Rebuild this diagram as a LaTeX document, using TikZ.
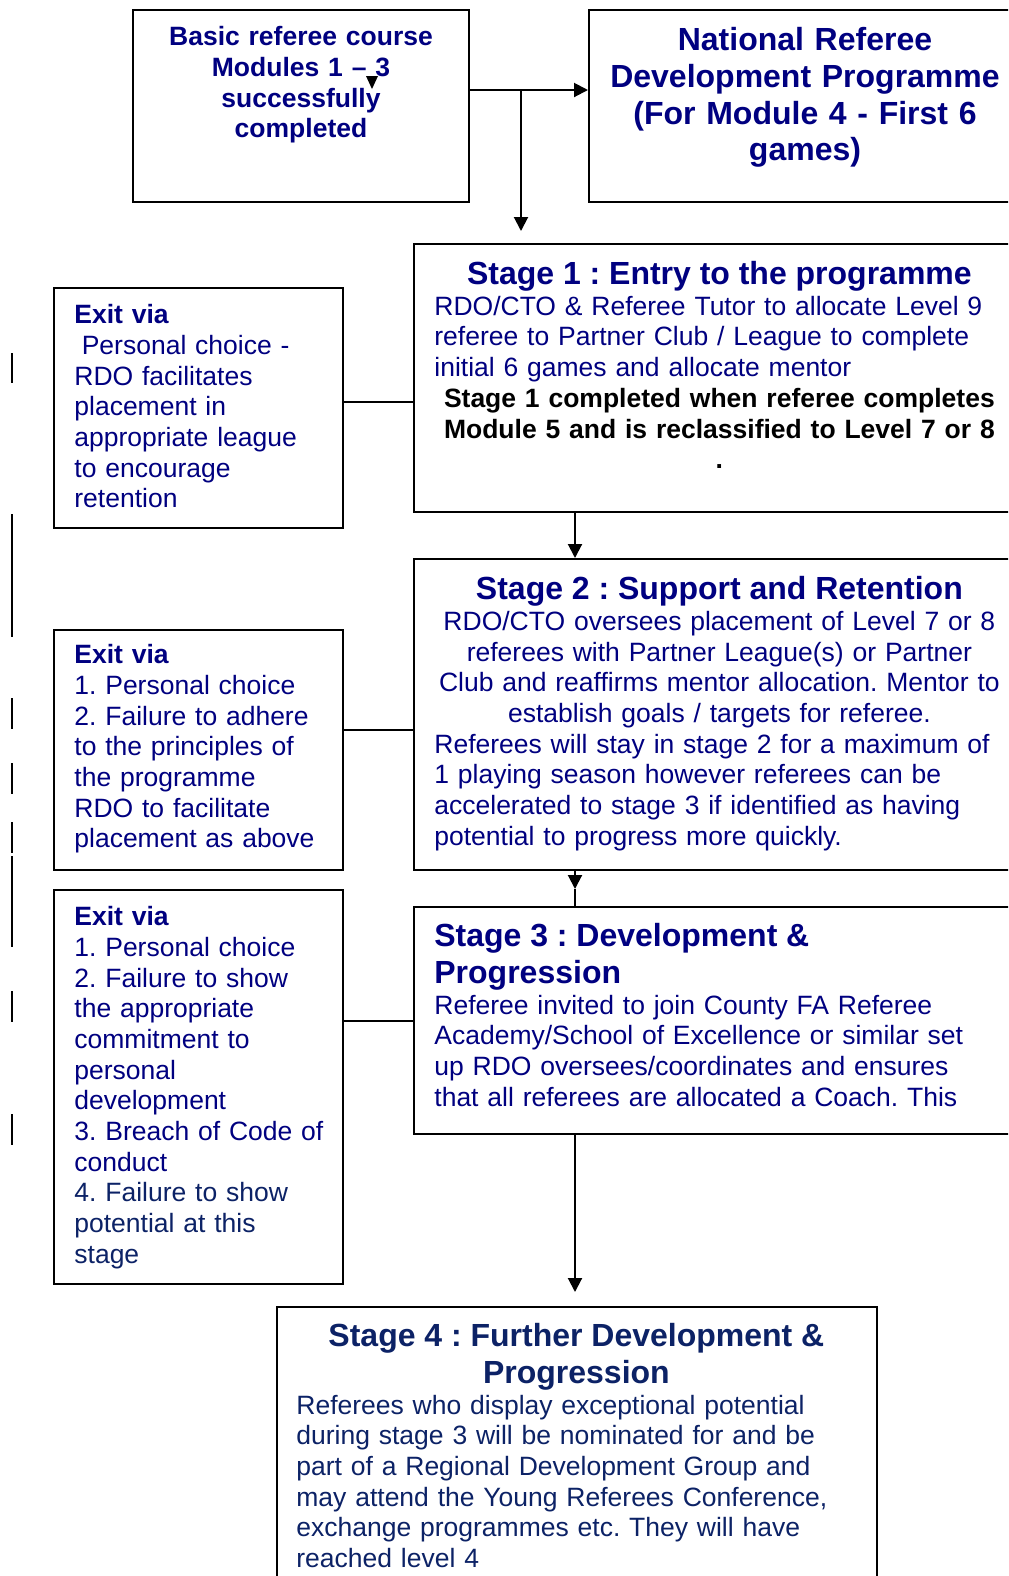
\documentclass[tikz,border=0pt]{standalone}
\usepackage{fontspec}
\setmainfont{Liberation Sans}
\usetikzlibrary{arrows.meta, positioning}

\definecolor{refnavy}{RGB}{0,0,128}
\definecolor{refdeep}{RGB}{12,34,102}
\newcommand{\bodysize}{\frenchspacing\fontsize{13.25}{15.35}\selectfont}
\newcommand{\headsize}{\frenchspacing\fontsize{16}{18.4}\selectfont\bfseries}

\begin{document}
\begin{tikzpicture}[x=0.5pt, y=-0.5pt, >={Triangle[length=7pt, width=7pt]},
  box/.style  = {draw, line width=1pt, inner sep=0pt},
  txt/.style  = {inner sep=0pt, text=refnavy, font=\bodysize, align=left},
  link/.style = {line width=1pt},
  chgbar/.style = {line width=1pt}]
  \path[use as bounding box, fill=white] (0,0) rectangle (1008,1576);
  \clip (0,0) rectangle (1008,1576);

  % Boxes
  \node[box, minimum width=168pt, minimum height=96pt]    (basic) at (301,106)    {};
  \node[box, minimum width=216pt, minimum height=96pt]    (natl)  at (805,106)    {};
  \node[box, minimum width=301pt, minimum height=134pt]   (s1)    at (715,378)    {};
  \node[box, minimum width=301pt, minimum height=155.5pt] (s2)    at (715,714.5)  {};
  \node[box, minimum width=301pt, minimum height=113.5pt] (s3)    at (715,1020.5) {};
  \node[box, minimum width=300pt, minimum height=146.5pt] (s4)    at (577,1453.5) {};
  \node[box, minimum width=144.5pt, minimum height=120pt] (e1)    at (198.5,408)  {};
  \node[box, minimum width=144.5pt, minimum height=120pt] (e2)    at (198.5,750)  {};
  \node[box, minimum width=144.5pt, minimum height=197pt] (e3)    at (198.5,1087) {};

  % Texts
  \node[txt, align=center, font=\bodysize\bfseries, text width=160pt, below=8.5pt of basic.north] (basictext)
    {Basic referee course\\ Modules 1 -- 3\\ successfully\\ completed};
  \node[txt, align=center, font=\headsize, text width=210pt, below=9pt of natl.north] (natltext)
    {National Referee\\ Development Programme\\ (For Module 4 - First 6\\ games)};
  \node[txt, text width=285pt, below right=9pt and 10.5pt of s1.north west] (s1text)
    {{\centering\headsize Stage 1 : Entry to the programme\par}
     RDO/CTO \& Referee Tutor to allocate Level 9\\ referee to Partner Club / League to complete\\ initial 6 games and allocate mentor\par
     {\centering\bfseries\color{black} Stage 1 completed when referee completes\\ Module 5 and is reclassified to Level 7 or 8\\ .\par}};
  \node[txt, text width=285pt, below right=9pt and 10.5pt of s2.north west] (s2text)
    {{\centering\headsize Stage 2 : Support and Retention\par}
     {\centering RDO/CTO oversees placement of Level 7 or 8\\ referees with Partner League(s) or Partner\\ Club and reaffirms mentor allocation. Mentor to\\ establish goals / targets for referee.\par}
     Referees will stay in stage 2 for a maximum of\\ 1 playing season however referees can be\\ accelerated to stage 3 if identified as having\\ potential to progress more quickly.};
  \node[txt, text width=285pt, below right=8.5pt and 10.5pt of s3.north west] (s3text)
    {{\headsize Stage 3 : Development \&\\ Progression\par}
     Referee invited to join County FA Referee\\ Academy/School of Excellence or similar set\\ up RDO oversees/coordinates and ensures\\ that all referees are allocated a Coach. This};
  \node[txt, text=refdeep, text width=280pt, below right=8.5pt and 10pt of s4.north west] (s4text)
    {{\centering\headsize Stage 4 : Further Development \&\\ Progression\par}
     Referees who display exceptional potential\\ during stage 3 will be nominated for and be\\ part of a Regional Development Group and\\ may attend the Young Referees Conference,\\ exchange programmes etc. They will have\\ reached level 4};
  \node[txt, text width=135pt, below right=8.5pt and 10.5pt of e1.north west] (e1text)
    {{\bfseries Exit via}\\ \hspace*{0.28em}Personal choice -\\ RDO facilitates\\ placement in\\ appropriate league\\ to encourage\\ retention};
  \node[txt, text width=135pt, below right=7.5pt and 10.5pt of e2.north west] (e2text)
    {{\bfseries Exit via}\\ 1. Personal choice\\ 2. Failure to adhere\\ to the principles of\\ the programme\\ RDO to facilitate\\ placement as above};
  \node[txt, text width=135pt, below right=8.5pt and 10.5pt of e3.north west] (e3text)
    {{\bfseries Exit via}\\ 1. Personal choice\\ 2. Failure to show\\ the appropriate\\ commitment to\\ personal\\ development\\ 3. Breach of Code of\\ conduct\\ {\color{refdeep}4. Failure to show\\ potential at this\\ stage}};

  % Stray arrow head in the first box
  \fill (366,76) -- (378,76) -- (372,89) -- cycle;

  % Connectors
  \coordinate (split) at (521,90);
  \draw[link, ->] ([yshift=8pt]basic.east) -- ([yshift=8pt]natl.west);
  \draw[link, ->, shorten >=6pt] (split) -- (split |- s1.north);
  \draw[link] ([yshift=3pt]e1.east) -- ([yshift=3pt]e1.east -| s1.west);
  \draw[link, ->] ([xshift=-70pt]s1.south) -- ([xshift=-70pt]s2.north);
  \draw[link] ([yshift=10pt]e2.east) -- ([yshift=10pt]e2.east -| s2.west);
  \coordinate (s2tip) at ([xshift=-70pt, yshift=-9pt]s2.south);
  \draw[link, ->] ([xshift=-70pt]s2.south) -- (s2tip);
  \draw[link] (s2tip) -- ([xshift=-70pt]s3.north);
  \draw[link] (s3.west) -- (s3.west -| e3.east);
  \draw[link, ->, shorten >=7pt] ([xshift=-70pt]s3.south) -- ([xshift=-70pt]s3.south |- s4.north);

  % Change bars in the margin
  \foreach \ya/\yb in {353/383, 514/637, 698/729, 763/794, 822/853, 856/947, 991/1022, 1114/1145}
    \draw[chgbar] (12,\ya) -- (12,\yb);
\end{tikzpicture}
\end{document}
